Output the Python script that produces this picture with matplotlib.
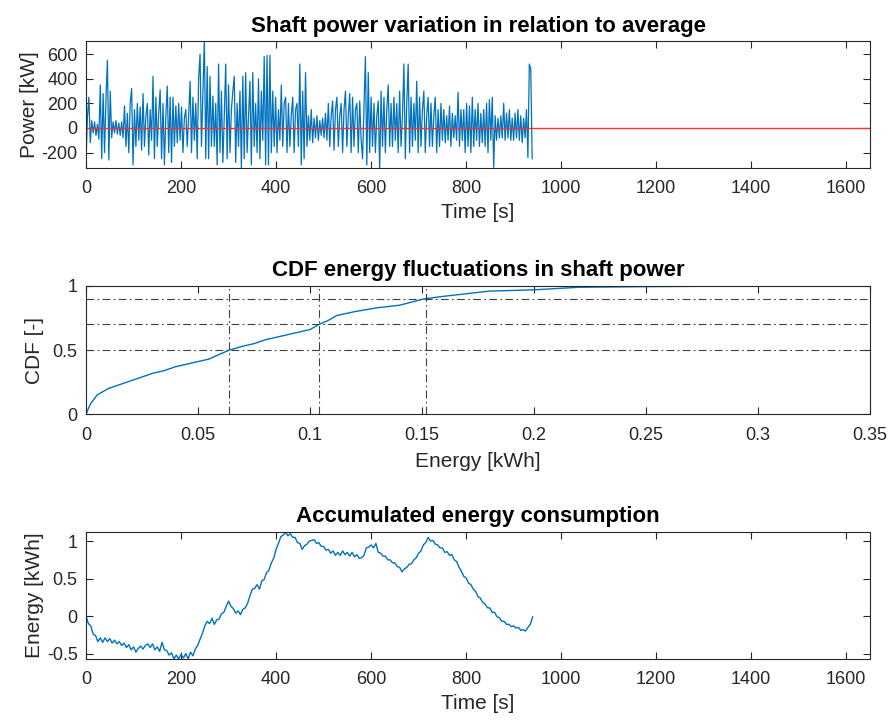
import numpy as np
import matplotlib.pyplot as plt

# shaft power variation, 3 s samples [kW]
power_t = np.arange(0, 942, 3)
power_kw = [
    -260, 90, 250, -120, 60, -40, 50, -60, 30, -90,
    350, -250, 280, -200, 240, 550, -260, 300, -80, 50,
    -40, 60, -50, 40, -60, 50, -80, 180, -150, 120,
    -200, 200, 320, -300, 150, -150, 200, -100, 170, -180,
    280, -150, 100, 200, -220, 150, -100, 420, -250, 250,
    -150, 120, 310, -250, 200, -300, 100, 340, -200, 250,
    -280, 250, -150, 180, -120, 200, -100, 170, -200, 80,
    150, -150, 100, 380, -200, 250, -100, 200, -250, 400,
    600, -150, 300, 720, -250, 500, -250, 420, -150, 260,
    -150, 200, -300, 520, -200, 300, -280, 100, 520, -250,
    350, -200, 150, 300, 420, -280, 200, -150, 300, -330,
    420, -250, 450, -200, 100, 380, -300, 450, -150, 200,
    -200, 400, -250, 300, -100, 580, -300, 590, -300, 590,
    -200, 300, -150, 250, -200, 150, -100, 350, -150, 200,
    250, -200, 200, -150, 100, 250, -200, 150, 200, -150,
    520, -300, 300, -250, 450, -150, 100, -100, 150, -120,
    80, -80, 100, -100, 60, -60, 80, -80, 120, -100,
    200, -150, 100, 220, -180, 150, 250, -150, 100, 200,
    -200, 150, 300, -150, 100, 280, -200, 250, -150, 150,
    200, -200, 220, -100, -250, 150, 580, -300, 450, -200,
    250, -150, 200, -200, 100, 220, -350, 300, -150, 250,
    -200, 150, 350, -150, 200, -150, 250, -100, 200, -200,
    300, -150, 100, 520, -250, 200, 520, -200, 250, -150,
    200, -100, 380, -200, 250, -150, 150, 300, -200, 100,
    250, -150, 200, -150, 100, 250, -200, 150, -150, 200,
    -100, 150, -120, 100, -100, 180, -150, 120, -80, 100,
    -100, 290, -150, 150, -100, 150, -200, 200, -150, 180,
    -200, 250, -150, 150, -100, 200, -150, 120, -120, 150,
    -150, 200, -200, 230, -100, 250, -320, 100, -100, 80,
    -80, 100, -80, 200, -100, 120, -80, 150, -100, 80,
    -100, 120, -80, 150, -100, 100, -120, 80, -80, 150,
    -240, 520, 480, -250,
]

# CDF of energy fluctuations
cdf_energy = [0.0, 0.002, 0.005, 0.01, 0.015, 0.02, 0.025, 0.03, 0.035, 0.04,
              0.045, 0.05, 0.055, 0.06, 0.064, 0.07, 0.075, 0.08, 0.085, 0.09,
              0.095, 0.1, 0.104, 0.108, 0.112, 0.12, 0.13, 0.14, 0.151, 0.16,
              0.17, 0.18, 0.19, 0.2, 0.21, 0.22, 0.25, 0.3]
cdf_value = [0.0, 0.08, 0.15, 0.2, 0.23, 0.26, 0.29, 0.32, 0.34, 0.37,
             0.39, 0.41, 0.43, 0.47, 0.5, 0.53, 0.55, 0.58, 0.6, 0.62,
             0.64, 0.66, 0.7, 0.73, 0.77, 0.8, 0.83, 0.85, 0.9, 0.92,
             0.94, 0.96, 0.965, 0.97, 0.98, 0.99, 0.995, 1.0]
cdf_levels = [0.5, 0.7, 0.9]
cdf_marks = [0.064, 0.104, 0.152]

# accumulated energy, 5 s samples [kWh]
energy_t = np.arange(0, 945, 5)
energy_kwh = [
    0.00, -0.10, -0.13, -0.24, -0.26, -0.34, -0.29, -0.35, -0.29, -0.34,
    -0.30, -0.36, -0.32, -0.37, -0.34, -0.39, -0.36, -0.42, -0.38, -0.45,
    -0.41, -0.48, -0.43, -0.40, -0.44, -0.39, -0.37, -0.42, -0.37, -0.45,
    -0.41, -0.47, -0.35, -0.45, -0.46, -0.52, -0.49, -0.57, -0.52, -0.57,
    -0.51, -0.56, -0.50, -0.57, -0.48, -0.53, -0.44, -0.39, -0.31, -0.23,
    -0.13, -0.07, -0.10, -0.03, -0.11, -0.05, -0.04, 0.03, 0.05, 0.13,
    0.20, 0.13, 0.10, 0.04, 0.07, 0.02, 0.09, 0.11, 0.17, 0.27,
    0.36, 0.37, 0.42, 0.36, 0.47, 0.49, 0.58, 0.61, 0.71, 0.77,
    0.89, 0.97, 1.06, 1.08, 1.12, 1.07, 1.10, 1.05, 1.05, 0.98,
    0.97, 0.89, 0.94, 0.96, 1.00, 1.01, 1.02, 0.97, 0.98, 0.93,
    0.93, 0.88, 0.89, 0.84, 0.87, 0.81, 0.85, 0.81, 0.87, 0.82,
    0.85, 0.80, 0.85, 0.79, 0.82, 0.77, 0.78, 0.81, 0.91, 0.92,
    0.95, 0.91, 0.97, 0.85, 0.84, 0.80, 0.80, 0.75, 0.75, 0.71,
    0.71, 0.66, 0.65, 0.59, 0.63, 0.65, 0.69, 0.70, 0.75, 0.78,
    0.84, 0.87, 0.95, 0.98, 1.05, 1.00, 1.01, 0.96, 0.95, 0.91,
    0.91, 0.85, 0.86, 0.81, 0.82, 0.75, 0.73, 0.65, 0.60, 0.53,
    0.51, 0.44, 0.42, 0.36, 0.33, 0.26, 0.24, 0.18, 0.16, 0.11,
    0.11, 0.05, 0.05, -0.01, -0.02, -0.07, -0.07, -0.11, -0.11, -0.14,
    -0.13, -0.16, -0.15, -0.19, -0.18, -0.20, -0.15, -0.11, -0.01,
]

plt.rcParams['font.family'] = ['Liberation Sans', 'DejaVu Sans']
plt.rcParams['axes.unicode_minus'] = False
blue = '#0072BD'
grey = '#262626'
dashdot = (0, (7, 3, 1.5, 3))

fig = plt.figure(figsize=(8.96, 7.24), dpi=100)
ax1 = fig.add_axes([0.096, 0.768, 0.875, 0.175])
ax2 = fig.add_axes([0.096, 0.428, 0.875, 0.177])
ax3 = fig.add_axes([0.096, 0.090, 0.875, 0.175])

for ax in (ax1, ax2, ax3):
    ax.tick_params(direction='in', top=True, right=True, labelsize=13,
                   colors=grey, length=5, width=0.8)
    ax.tick_params(axis='x', pad=9)
    ax.tick_params(axis='y', pad=6)
    for s in ax.spines.values():
        s.set_color(grey)
        s.set_linewidth(0.8)

# top: power
ax1.plot(power_t, power_kw, color=blue, lw=0.9)
ax1.plot([0, 1650], [0, 0], color='#FF3030', lw=1.0)
ax1.set_xlim(0, 1650)
ax1.set_ylim(-325, 705)
ax1.set_xticks(np.arange(0, 1601, 200))
ax1.set_yticks([-200, 0, 200, 400, 600])
ax1.set_title('Shaft power variation in relation to average', fontsize=16,
              fontweight='bold', pad=7)
ax1.set_xlabel('Time [s]', fontsize=15, color=grey, labelpad=4)
ax1.set_ylabel('Power [kW]', fontsize=15, color=grey, labelpad=2)

# middle: CDF
ax2.plot(cdf_energy, cdf_value, color=blue, lw=1.0)
for lv in cdf_levels:
    ax2.plot([0, 0.35], [lv, lv], color='#404040', lw=0.8, ls=dashdot)
for mk in cdf_marks:
    ax2.plot([mk, mk], [0, 1], color='#404040', lw=0.8, ls=dashdot)
ax2.set_xlim(0, 0.35)
ax2.set_ylim(0, 1)
ax2.set_xticks([0, 0.05, 0.1, 0.15, 0.2, 0.25, 0.3, 0.35])
ax2.set_xticklabels(['0', '0.05', '0.1', '0.15', '0.2', '0.25', '0.3', '0.35'])
ax2.set_yticks([0, 0.5, 1])
ax2.set_yticklabels(['0', '0.5', '1'])
ax2.set_title('CDF energy fluctuations in shaft power', fontsize=16,
              fontweight='bold', pad=7)
ax2.set_xlabel('Energy [kWh]', fontsize=15, color=grey, labelpad=6)
ax2.set_ylabel('CDF [-]', fontsize=15, color=grey, labelpad=6)

# bottom: accumulated energy
ax3.plot(energy_t, energy_kwh, color=blue, lw=1.0)
ax3.set_xlim(0, 1650)
ax3.set_ylim(min(energy_kwh), max(energy_kwh))
ax3.set_xticks(np.arange(0, 1601, 200))
ax3.set_yticks([-0.5, 0, 0.5, 1])
ax3.set_yticklabels(['-0.5', '0', '0.5', '1'])
ax3.set_title('Accumulated energy consumption', fontsize=16,
              fontweight='bold', pad=7)
ax3.set_xlabel('Time [s]', fontsize=15, color=grey, labelpad=4)
ax3.set_ylabel('Energy [kWh]', fontsize=15, color=grey, labelpad=2)

fig.savefig('out.png', dpi=100)
